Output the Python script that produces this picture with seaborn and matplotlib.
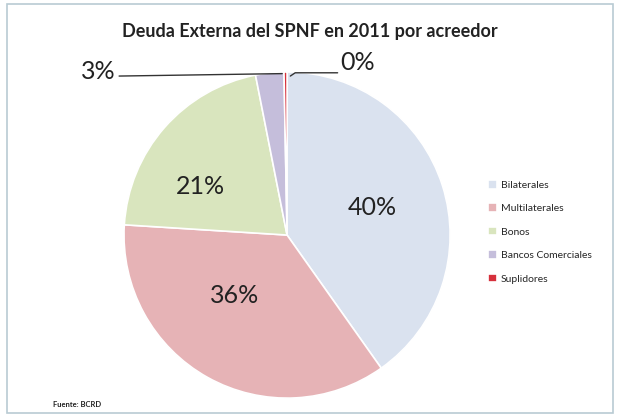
import seaborn as sns
import matplotlib.pyplot as plt
from matplotlib.patches import Rectangle

# datos
acreedores = ["Bilaterales", "Multilaterales", "Bonos", "Bancos Comerciales", "Suplidores"]
participacion = [40.2, 35.8, 20.9, 2.8, 0.3]
colores = ["#dae2ef", "#e6b3b6", "#d9e5be", "#c5bedb", "#d6303c"]

sns.set_theme(style="white")
plt.rcParams['font.family'] = ['Lato', 'DejaVu Sans']

fig = plt.figure(figsize=(6.2, 4.16), dpi=100)
fig.patch.set_facecolor("white")
fig.add_artist(Rectangle((0.012, 0.008), 0.976, 0.982, transform=fig.transFigure,
                         fill=False, edgecolor="#b9cbd3", linewidth=1.2))

ax = fig.add_axes([0.2, 0.043, 0.526, 0.784])
wedges, texts, autotexts = ax.pie(participacion, colors=colores, startangle=90,
                                  counterclock=False, autopct='%1.0f%%',
                                  wedgeprops=dict(edgecolor="white", linewidth=1.2),
                                  textprops=dict(fontsize=18, color="#222222"))
ax.set_xlim(-1, 1)
ax.set_ylim(-1, 1)
ax.set_aspect('equal')

# posiciones de las etiquetas como en Excel
pos = [(0.52, 0.17), (-0.32, -0.37), (-0.53, 0.30), (-1.16, 1.0), (0.43, 1.06)]
for t, p in zip(autotexts, pos):
    t.set_position(p)
ax.plot([-1.03, -0.03], [0.975, 0.99], color="#333333", lw=1, clip_on=False)
ax.plot([0.02, 0.05, 0.31], [0.975, 0.995, 0.995], color="#333333", lw=1, clip_on=False)

fig.text(0.5, 0.925, "Deuda Externa del SPNF en 2011 por acreedor",
         ha="center", va="center", fontsize=13, fontweight="bold", color="#222222")
fig.text(0.085, 0.027, "Fuente: BCRD", fontsize=5.5, fontweight="bold", color="#222222",
         va="center")

fig.legend(wedges, acreedores, loc="upper left", bbox_to_anchor=(0.772, 0.59),
           frameon=False, fontsize=7.5, labelspacing=1.3, handlelength=0.9,
           handleheight=0.9, handletextpad=0.3)

fig.savefig("out.png", dpi=100)
